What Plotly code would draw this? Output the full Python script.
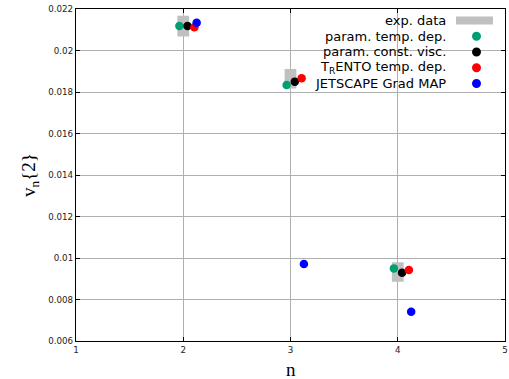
import plotly.graph_objects as go

# ---- data ----
n_vals = [2, 3, 4]
exp_v = [0.02117, 0.01864, 0.00933]
exp_err = [0.00050, 0.00047, 0.00047]
param_temp = [0.02118, 0.01834, 0.00950]
param_const = [0.02118, 0.01850, 0.00929]
trento_temp = [0.02112, 0.01866, 0.00942]
jetscape_map = [0.02134, 0.00971, 0.00741]
y_ticks = [0.006, 0.008, 0.010, 0.012, 0.014, 0.016, 0.018, 0.020, 0.022]
y_ticklabels = ["0.006", "0.008", "0.01", "0.012", "0.014", "0.016", "0.018", "0.02", "0.022"]
x_ticks = [1, 2, 3, 4, 5]

labels = ["exp. data", "param. temp. dep.", "param. const. visc.",
          "T<sub>R</sub>ENTO temp. dep.", "JETSCAPE Grad MAP"]

GRAY = "#c0c0c0"
GREEN = "#009e73"
series = [
    (param_temp, GREEN, -0.036),
    (param_const, "#000000", 0.040),
    (trento_temp, "#ff0000", 0.104),
    (jetscape_map, "#0000ff", 0.125),
]

fig = go.Figure()

# exp boxes
box_hw = 0.055
bx, by = [], []
for n, v, e in zip(n_vals, exp_v, exp_err):
    bx += [n - box_hw, n + box_hw, n + box_hw, n - box_hw, n - box_hw, None]
    by += [v - e, v - e, v + e, v + e, v - e, None]
fig.add_trace(go.Scatter(x=bx, y=by, mode="lines", fill="toself",
                         fillcolor=GRAY, line=dict(width=0, color=GRAY),
                         hoverinfo="skip", showlegend=False))

for vals, col, off in series:
    fig.add_trace(go.Scatter(x=[n + off for n in n_vals], y=vals, mode="markers",
                             marker=dict(size=8.5, color=col, line=dict(width=0)),
                             showlegend=False))

# ---- custom legend (text left of symbol, right-aligned) ----
L, R, T, B = 76, 505, 9, 341
W, H = R - L, B - T
def px(xp): return (xp - L) / W
def py(yp): return (B - yp) / H

shapes = [dict(type="rect", xref="paper", yref="paper", x0=px(305), x1=px(503),
               y0=py(93), y1=py(10), fillcolor="white", line=dict(width=0),
               layer="between")]
rows = [20.5, 36.3, 52.0, 67.8, 83.5]
annotations = []
for lab, ry in zip(labels, rows):
    annotations.append(dict(text=lab, xref="paper", yref="paper", x=px(448), y=py(ry),
                            xanchor="right", yanchor="middle", showarrow=False,
                            font=dict(family="DejaVu Sans", size=13, color="#000000")))
# gray bar symbol
shapes.append(dict(type="rect", xref="paper", yref="paper", x0=px(456), x1=px(493),
                   y0=py(rows[0] + 4), y1=py(rows[0] - 4), fillcolor=GRAY,
                   line=dict(width=0), layer="above"))
for (vals, col, off), ry in zip(series, rows[1:]):
    shapes.append(dict(type="circle", xref="paper", yref="paper",
                       xsizemode="pixel", ysizemode="pixel",
                       xanchor=px(476.5), yanchor=py(ry),
                       x0=-4.5, x1=4.5, y0=-4.5, y1=4.5,
                       fillcolor=col, line=dict(width=0), layer="above"))

# axis titles
annotations.append(dict(text="n", xref="paper", yref="paper", x=0.5, y=py(369),
                        xanchor="center", yanchor="middle", showarrow=False,
                        font=dict(family="Liberation Serif", size=19, color="#000000")))
annotations.append(dict(text="v<sub>n</sub>{2}", xref="paper", yref="paper", x=px(30), y=0.5,
                        xanchor="center", yanchor="middle", showarrow=False, textangle=-90,
                        font=dict(family="Liberation Serif", size=19, color="#000000")))

axis_common = dict(showline=True, linecolor="#000000", linewidth=1.2, mirror="ticks",
                   ticks="inside", ticklen=4, tickwidth=1, tickcolor="#000000",
                   showgrid=True, gridcolor="#b0b0b0", gridwidth=1, zeroline=False,
                   automargin=False,
                   tickfont=dict(family="DejaVu Sans", size=8.7, color="#222222"))

fig.update_layout(
    width=509, height=379,
    margin=dict(l=L, r=509 - R, t=T, b=379 - B, autoexpand=False),
    paper_bgcolor="white", plot_bgcolor="white",
    xaxis=dict(range=[1, 5], tickmode="array", tickvals=x_ticks,
               ticktext=[str(t) for t in x_ticks], **axis_common),
    yaxis=dict(range=[0.006, 0.022], tickmode="array", tickvals=y_ticks,
               ticktext=y_ticklabels, **axis_common),
    shapes=shapes, annotations=annotations, showlegend=False,
)

fig.write_html("out.html", config={"displayModeBar": False},
               post_script="document.body.style.margin='0';document.body.style.overflow='hidden';")
